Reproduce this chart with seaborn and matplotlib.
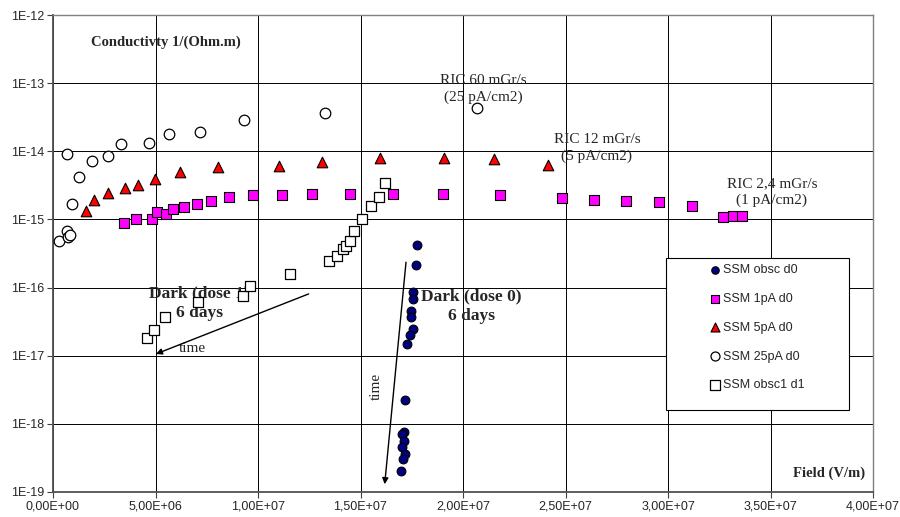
import numpy as np
import pandas as pd
import matplotlib
matplotlib.use("Agg")
import matplotlib.pyplot as plt
import matplotlib.ticker as mticker
from matplotlib.patches import Rectangle
import seaborn as sns

# ---------------- data (Field V/m , Conductivity 1/(Ohm.m)) ----------------
obsc_d0_x = [1.777e7, 1.771e7, 1.758e7, 1.755e7, 1.748e7, 1.748e7, 1.755e7, 1.741e7, 1.725e7,
             1.717e7, 1.712e7, 1.702e7, 1.712e7, 1.702e7, 1.716e7, 1.706e7, 1.696e7]
obsc_d0_y = [4.25e-16, 2.18e-16, 8.7e-17, 6.7e-17, 4.6e-17, 3.75e-17, 2.5e-17, 2.0e-17, 1.5e-17,
             2.23e-18, 7.6e-19, 7.0e-19, 5.6e-19, 4.6e-19, 3.66e-19, 3.0e-19, 2.04e-19]

pa1_x = [3.48e6, 4.03e6, 4.81e6, 5.09e6, 5.53e6, 5.87e6, 6.39e6, 7.01e6, 7.71e6, 8.59e6, 9.76e6,
         1.116e7, 1.265e7, 1.447e7, 1.659e7, 1.903e7, 2.179e7, 2.481e7, 2.639e7, 2.797e7, 2.958e7,
         3.119e7, 3.268e7, 3.317e7, 3.359e7]
pa1_y = [8.8e-16, 1.01e-15, 1.0e-15, 1.28e-15, 1.21e-15, 1.41e-15, 1.54e-15, 1.66e-15, 1.88e-15,
         2.13e-15, 2.25e-15, 2.3e-15, 2.34e-15, 2.37e-15, 2.4e-15, 2.33e-15, 2.26e-15, 2.06e-15,
         1.95e-15, 1.84e-15, 1.78e-15, 1.57e-15, 1.1e-15, 1.12e-15, 1.12e-15]

pa5_x = [1.61e6, 2.0e6, 2.68e6, 3.53e6, 4.15e6, 4.96e6, 6.21e6, 8.06e6, 1.104e7, 1.312e7, 1.597e7,
         1.909e7, 2.15e7, 2.413e7]
pa5_y = [1.32e-15, 1.95e-15, 2.46e-15, 2.86e-15, 3.2e-15, 3.9e-15, 4.9e-15, 5.9e-15, 6.1e-15,
         6.9e-15, 8.0e-15, 8.0e-15, 7.8e-15, 6.2e-15]

pa25_x = [2.9e5, 6.7e5, 7.5e5, 8.3e5, 6.7e5, 9.1e5, 1.27e6, 1.89e6, 2.67e6, 3.30e6, 4.68e6, 5.64e6,
          7.17e6, 9.32e6, 1.327e7, 2.067e7]
pa25_y = [4.8e-16, 6.7e-16, 5.6e-16, 6.0e-16, 9.1e-15, 1.7e-15, 4.2e-15, 7.1e-15, 8.5e-15, 1.26e-14,
          1.34e-14, 1.8e-14, 1.94e-14, 2.9e-14, 3.6e-14, 4.3e-14]

obsc1_x = [4.57e6, 4.93e6, 5.48e6, 7.06e6, 9.25e6, 9.62e6, 1.158e7, 1.348e7, 1.387e7, 1.415e7,
           1.429e7, 1.449e7, 1.468e7, 1.506e7, 1.553e7, 1.590e7, 1.621e7]
obsc1_y = [1.8e-17, 2.4e-17, 3.75e-17, 6.2e-17, 7.4e-17, 1.04e-16, 1.58e-16, 2.49e-16, 2.88e-16,
           3.7e-16, 4.1e-16, 4.8e-16, 6.7e-16, 1.01e-15, 1.58e-15, 2.1e-15, 3.4e-15]

series_labels = ["SSM obsc d0", "SSM 1pA d0", "SSM 5pA d0", "SSM 25pA d0", "SSM obsc1 d1"]
x_ticks = [0, 5e6, 1e7, 1.5e7, 2e7, 2.5e7, 3e7, 3.5e7, 4e7]
y_ticks = [1e-19, 1e-18, 1e-17, 1e-16, 1e-15, 1e-14, 1e-13, 1e-12]

# ---------------- figure ----------------
sns.set_theme(style="white")
plt.rcParams["font.family"] = ["Liberation Sans", "DejaVu Sans"]

fig = plt.figure(figsize=(9, 5.17), dpi=100)
ax = fig.add_axes([53 / 900, 25 / 517, 820 / 900, 477 / 517])
ax.set_xscale("linear")
ax.set_yscale("log")

styles = [
    (obsc_d0_x, obsc_d0_y, "o", "#000080", 40, 0.8),
    (pa1_x, pa1_y, "s", "#FF00FF", 48, 0.8),
    (pa5_x, pa5_y, "^", "#FF0000", 58, 0.8),
    (pa25_x, pa25_y, "o", "white", 58, 0.9),
    (obsc1_x, obsc1_y, "s", "white", 60, 0.9),
]
draw_order = [3, 4, 1, 2, 0]
for i in draw_order:
    xs, ys, m, c, s, lw = styles[i]
    df = pd.DataFrame({"Field": xs, "Cond": ys})
    sns.scatterplot(data=df, x="Field", y="Cond", marker=m, color=c, s=s,
                    edgecolor="black", linewidth=lw, ax=ax, label=series_labels[i],
                    zorder=4, legend=False)

ax.set_xlim(0, 4e7)
ax.set_ylim(1e-19, 1e-12)
ax.set_xticks(x_ticks)
ax.set_yticks(y_ticks)
ax.yaxis.set_minor_locator(mticker.NullLocator())
ax.xaxis.set_major_formatter(mticker.FuncFormatter(lambda v, p: f"{v:.2E}".replace(".", ",")))
ax.yaxis.set_major_formatter(mticker.FuncFormatter(lambda v, p: f"1E{int(round(np.log10(v)))}"))
ax.tick_params(axis="both", which="major", labelsize=9, length=4, width=0.8,
               direction="out", color="#404040", pad=2, bottom=True, left=True)
ax.set_xlabel("")
ax.set_ylabel("")

ax.grid(True, which="major", color="black", linewidth=0.7)
ax.set_axisbelow(True)
for side in ["left", "bottom"]:
    ax.spines[side].set_color("#505050")
    ax.spines[side].set_linewidth(1.3)
for side in ["top", "right"]:
    ax.spines[side].set_color("#808080")
    ax.spines[side].set_linewidth(1.0)

# ---------------- annotations ----------------
serif = ["Liberation Serif", "DejaVu Serif"]
ax.text(0.1378, 0.9434, "Conductivty 1/(Ohm.m)", transform=ax.transAxes, ha="center", va="center",
        family=serif, fontsize=10.5, fontweight="bold", zorder=2)
ax.text(0.5244, 0.8449, "RIC 60 mGr/s\n(25 pA/cm2)", transform=ax.transAxes, ha="center",
        va="center", multialignment="center", family=serif, fontsize=11, linespacing=1.35, zorder=2)
ax.text(0.6634, 0.7212, "RIC 12 mGr/s\n(5 pA/cm2)", transform=ax.transAxes, ha="center",
        va="center", multialignment="center", family=serif, fontsize=11, linespacing=1.35, zorder=2)
ax.text(0.8768, 0.6289, "RIC 2,4 mGr/s\n(1 pA/cm2)", transform=ax.transAxes, ha="center",
        va="center", multialignment="center", family=serif, fontsize=11, linespacing=1.35, zorder=2)
ax.text(0.1787, 0.3956, "Dark (dose 1)\n6 days", transform=ax.transAxes, ha="center",
        va="center", multialignment="center", family=serif, fontsize=12.5, fontweight="bold",
        linespacing=1.3, zorder=2)
ax.text(0.5098, 0.3899, "Dark (dose 0)\n6 days", transform=ax.transAxes, ha="center",
        va="center", multialignment="center", family=serif, fontsize=12.5, fontweight="bold",
        linespacing=1.3, zorder=2)
ax.text(0.1695, 0.2998, "time", transform=ax.transAxes, ha="center", va="center",
        family=serif, fontsize=11, zorder=2)
ax.text(0.3939, 0.2208, "time", transform=ax.transAxes, ha="center", va="center",
        family=serif, fontsize=11, rotation=90, zorder=2)
ax.text(0.9463, 0.0398, "Field (V/m)", transform=ax.transAxes, ha="center", va="center",
        family=serif, fontsize=10.5, fontweight="bold", zorder=2)

arrow_kw = dict(arrowstyle="-|>", color="black", lw=1.0, mutation_scale=9, shrinkA=0, shrinkB=0)
ax.annotate("", xy=(5.02e6, 1.06e-17), xytext=(1.247e7, 8.07e-17), arrowprops=arrow_kw, zorder=3)
ax.annotate("", xy=(1.618e7, 1.30e-19), xytext=(1.722e7, 2.36e-16), arrowprops=arrow_kw, zorder=3)

# ---------------- legend ----------------
ax.add_patch(Rectangle((0.748, 0.172), 0.223, 0.318, transform=ax.transAxes, facecolor="white",
                       edgecolor="black", linewidth=0.8, zorder=5))
handles, labels = ax.get_legend_handles_labels()
order = [labels.index(l) for l in series_labels]
leg = ax.legend([handles[k] for k in order], [labels[k] for k in order],
                loc="upper left", bbox_to_anchor=(0.800, 0.478), frameon=False,
                fontsize=9, handlelength=1.0, handletextpad=0.15, borderpad=0,
                labelspacing=1.35, markerscale=0.85, borderaxespad=0)
leg.set_zorder(6)

fig.savefig("out.png", dpi=100)
